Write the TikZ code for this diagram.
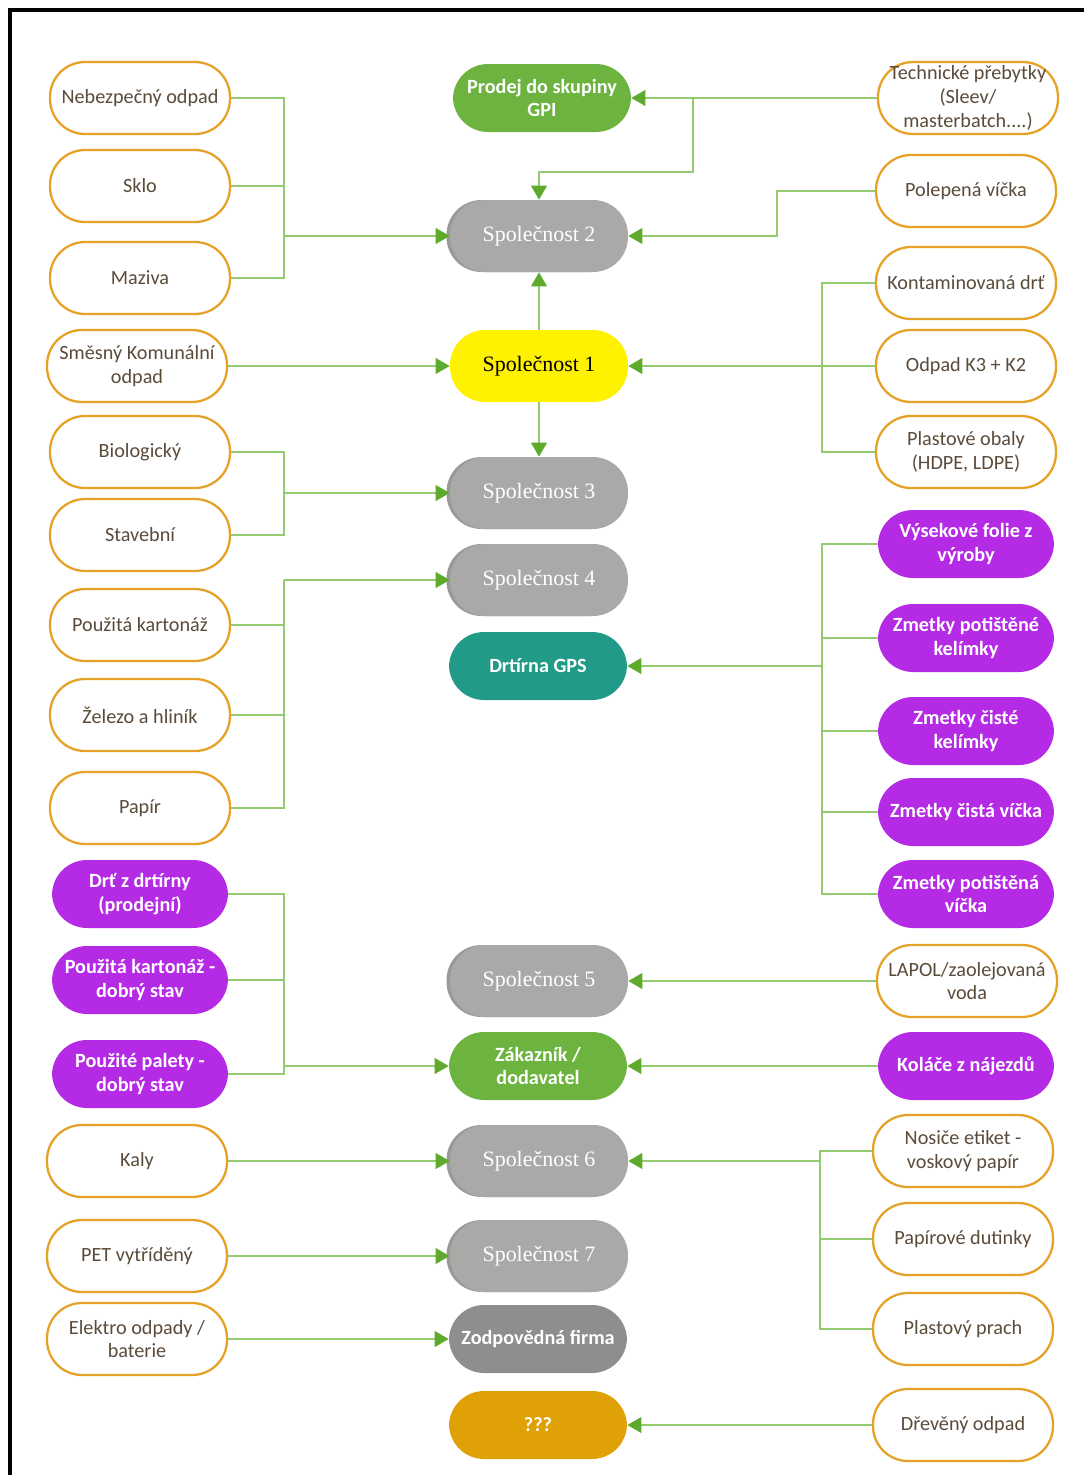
\documentclass[tikz,border=0pt]{standalone}
\usepackage{fontspec}
\setmainfont{Liberation Serif}
\newfontfamily\boxfont{Carlito}
\usepackage{xcolor}
\usepackage{tikz}
\usetikzlibrary{arrows.meta,shadows}

\definecolor{wasteorange}{HTML}{E5A227}
\definecolor{wastetext}{HTML}{5B4B3B}
\definecolor{linegreen}{HTML}{92CC6E}
\definecolor{tipgreen}{HTML}{5EAA2C}
\definecolor{purplefill}{HTML}{B52BE5}
\definecolor{greenfill}{HTML}{6DB33F}
\definecolor{tealfill}{HTML}{219B88}
\definecolor{firmgrey}{HTML}{ABA8A8}
\definecolor{darkgrey}{HTML}{8E8E8E}
\definecolor{amberfill}{HTML}{E0A106}

\tikzset{
	pill/.style={rectangle, rounded corners=0.7cm, minimum width=3.6cm, minimum height=1.44cm,
		inner sep=0pt, align=center, font=\boxfont\fontsize{11.5}{13.5}\selectfont},
	waste/.style={pill, draw=wasteorange, line width=1.3pt, fill=white, text=wastetext},
	reject/.style={pill, fill=purplefill, text=white, minimum width=3.52cm, minimum height=1.36cm,
		font=\boxfont\bfseries\fontsize{11.5}{13.5}\selectfont},
	company/.style={pill, text=white, minimum width=3.56cm, font=\fontsize{12.5}{14}\selectfont},
	firm/.style={company, fill=firmgrey, general shadow={fill=black!40, shadow xshift=-2pt}},
	buyer/.style={pill, text=white, minimum width=3.56cm, minimum height=1.36cm,
		font=\boxfont\bfseries\fontsize{11.5}{13.5}\selectfont},
	link/.style={linegreen, line width=1pt},
	arrowlink/.style={link, -{Triangle[length=8pt,width=9pt,color=tipgreen]}},
}

\begin{document}
\begin{tikzpicture}[x=0.02cm, y=-0.02cm]

	\useasboundingbox (0,0) rectangle (1084,1475);
	\draw[line width=2pt] (10,1475) -- (10,10) -- (1084,10);

	% left column
	\node[waste] (neb) at (140,98) {Nebezpečný odpad};
	\node[waste] (sklo) at (140,186) {Sklo};
	\node[waste] (maz) at (140,278) {Maziva};
	\node[waste] (smes) at (137,366) {Směsný Komunální\\odpad};
	\node[waste] (bio) at (140,452) {Biologický};
	\node[waste] (stav) at (140,535) {Stavební};
	\node[waste] (kart) at (140,625) {Použitá kartonáž};
	\node[waste] (zel) at (140,715) {Železo a hliník};
	\node[waste] (pap) at (140,808) {Papír};
	\node[reject] (drt) at (140,894) {Drť z drtírny\\(prodejní)};
	\node[reject] (kartd) at (140,980) {Použitá kartonáž -\\dobrý stav};
	\node[reject] (pal) at (140,1074) {Použité palety -\\dobrý stav};
	\node[waste] (kaly) at (137,1161) {Kaly};
	\node[waste] (pet) at (137,1256) {PET vytříděný};
	\node[waste] (elek) at (137,1339) {Elektro odpady /\\baterie};

	% middle column
	\node[buyer, fill=greenfill] (gpi) at (542,98) {Prodej do skupiny\\GPI};
	\node[firm] (sp2) at (539,236) {Společnost 2};
	\node[company, fill=yellow, text=black] (sp1) at (539,366) {Společnost 1};
	\node[firm] (sp3) at (539,493) {Společnost 3};
	\node[firm] (sp4) at (539,580) {Společnost 4};
	\node[buyer, fill=tealfill] (gps) at (538,666) {Drtírna GPS};
	\node[firm] (sp5) at (539,981) {Společnost 5};
	\node[buyer, fill=greenfill] (zak) at (538,1066) {Zákazník /\\dodavatel};
	\node[firm] (sp6) at (539,1161) {Společnost 6};
	\node[firm] (sp7) at (539,1256) {Společnost 7};
	\node[buyer, fill=darkgrey] (zodp) at (538,1339) {Zodpovědná firma};
	\node[buyer, fill=amberfill] (qqq) at (538,1425) {???};

	% right column
	\node[waste] (tech) at (968,98) {Technické přebytky\\(Sleev/\\masterbatch....)};
	\node[waste] (pol) at (966,191) {Polepená víčka};
	\node[waste] (kont) at (966,283) {Kontaminovaná drť};
	\node[waste] (k3) at (966,366) {Odpad K3 + K2};
	\node[waste] (plast) at (966,452) {Plastové obaly\\(HDPE, LDPE)};
	\node[reject] (vys) at (966,544) {Výsekové folie z\\výroby};
	\node[reject] (zpk) at (966,638) {Zmetky potištěné\\kelímky};
	\node[reject] (zck) at (966,731) {Zmetky čisté\\kelímky};
	\node[reject] (zcv) at (966,812) {Zmetky čistá víčka};
	\node[reject] (zpv) at (966,894) {Zmetky potištěná\\víčka};
	\node[waste] (lapol) at (967,981) {LAPOL/zaolejovaná\\voda};
	\node[reject] (kol) at (966,1066) {Koláče z nájezdů};
	\node[waste] (nos) at (963,1151) {Nosiče etiket -\\voskový papír};
	\node[waste] (dut) at (963,1239) {Papírové dutinky};
	\node[waste] (prach) at (963,1329) {Plastový prach};
	\node[waste] (drev) at (963,1425) {Dřevěný odpad};

	% junctions
	\coordinate (busA) at (284,236);
	\coordinate (busB) at (284,493);
	\coordinate (busC) at (284,580);
	\coordinate (busD) at (284,1066);
	\coordinate (j1) at (693,98);
	\coordinate (j2) at (539,172);
	\coordinate (j3) at (777,236);
	\coordinate (busE) at (822,366);
	\coordinate (busF) at (822,666);
	\coordinate (busG) at (820,1161);

	% left links
	\draw[link] (neb.east) -| (busA);
	\draw[link] (sklo.east) -| (busA);
	\draw[link] (maz.east) -| (busA);
	\draw[arrowlink] (busA) -- (sp2.west);
	\draw[arrowlink] (smes.east) -- (sp1.west);
	\draw[link] (bio.east) -| (busB);
	\draw[link] (stav.east) -| (busB);
	\draw[arrowlink] (busB) -- (sp3.west);
	\draw[link] (kart.east) -| (busC);
	\draw[link] (zel.east) -| (busC);
	\draw[link] (pap.east) -| (busC);
	\draw[arrowlink] (busC) -- (sp4.west);
	\draw[link] (drt.east) -| (busD);
	\draw[link] (kartd.east) -| (busD);
	\draw[link] (pal.east) -| (busD);
	\draw[arrowlink] (busD) -- (zak.west);
	\draw[arrowlink] (kaly.east) -- (sp6.west);
	\draw[arrowlink] (pet.east) -- (sp7.west);
	\draw[arrowlink] (elek.east) -- (zodp.west);

	% middle links
	\draw[arrowlink] (sp1.north) -- (sp2.south);
	\draw[arrowlink] (sp1.south) -- (sp3.north);

	% right links
	\draw[arrowlink] (tech.west) -- (gpi.east);
	\draw[arrowlink] (j1) |- (j2) -- (sp2.north);
	\draw[arrowlink] (pol.west) -| (j3) -- (sp2.east);
	\draw[link] (kont.west) -| (busE);
	\draw[link] (plast.west) -| (busE);
	\draw[arrowlink] (k3.west) -- (sp1.east);
	\draw[link] (vys.west) -| (busF);
	\draw[link] (zpk.west) -| (busF);
	\draw[link] (zck.west) -| (busF);
	\draw[link] (zcv.west) -| (busF);
	\draw[link] (zpv.west) -| (busF);
	\draw[arrowlink] (busF) -- (gps.east);
	\draw[arrowlink] (lapol.west) -- (sp5.east);
	\draw[arrowlink] (kol.west) -- (zak.east);
	\draw[link] (nos.west) -| (busG);
	\draw[link] (dut.west) -| (busG);
	\draw[link] (prach.west) -| (busG);
	\draw[arrowlink] (busG) -- (sp6.east);
	\draw[arrowlink] (drev.west) -- (qqq.east);

\end{tikzpicture}
\end{document}
